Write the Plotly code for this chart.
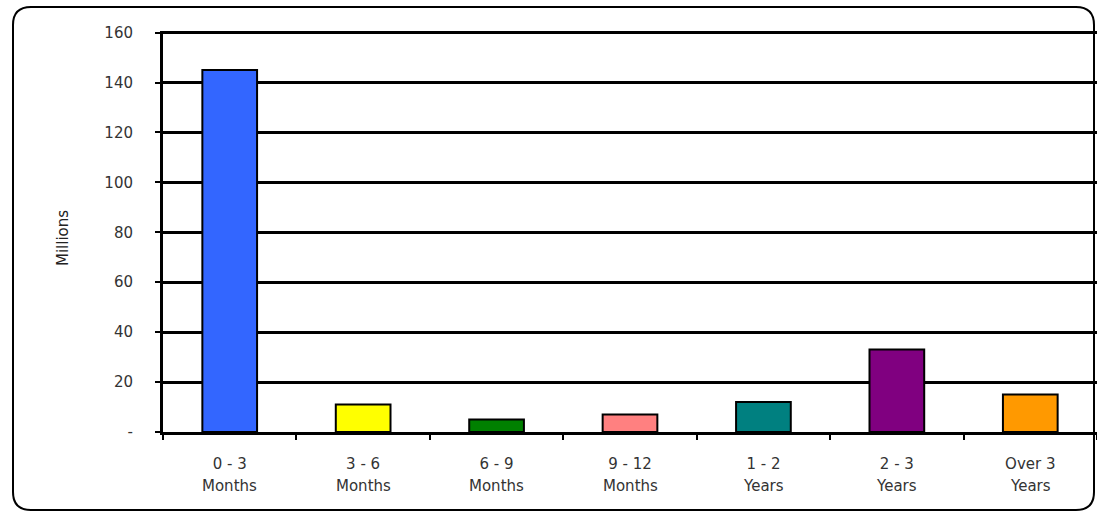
import plotly.graph_objects as go

# Ageing buckets and balances (millions)
period_ranges = ["0 - 3", "3 - 6", "6 - 9", "9 - 12", "1 - 2", "2 - 3", "Over 3"]
period_units = ["Months", "Months", "Months", "Months", "Years", "Years", "Years"]
balances = [145, 11, 5, 7, 12, 33, 15]
bar_colors = ["#3366FF", "#FFFF00", "#008000", "#FF8080", "#008080", "#800080", "#FF9900"]

y_tick_values = [0, 20, 40, 60, 80, 100, 120, 140, 160]
y_tick_labels = ["-", "20", "40", "60", "80", "100", "120", "140", "160"]

categories = [f"{r}|{u}" for r, u in zip(period_ranges, period_units)]

W, H = 1097, 512
L, R, T, B = 163, 0, 31, 80
pw, ph = W - L - R, H - T - B

fig = go.Figure(
    go.Bar(
        x=categories,
        y=balances,
        width=0.41,
        marker=dict(color=bar_colors, line=dict(color="black", width=2)),
        hoverinfo="x+y",
    )
)

font = dict(family="DejaVu Sans, Arial, sans-serif", size=15, color="#333333")

fig.update_layout(
    width=W,
    height=H,
    margin=dict(l=L, r=R, t=T, b=B),
    paper_bgcolor="white",
    plot_bgcolor="white",
    showlegend=False,
    font=font,
    xaxis=dict(
        type="category",
        tickvals=categories,
        ticktext=period_ranges,
        tickson="boundaries",
        ticks="outside",
        ticklen=5,
        tickwidth=2,
        tickcolor="black",
        ticklabelstandoff=16,
        showline=True,
        linecolor="black",
        linewidth=3,
        showgrid=False,
        range=[-0.5, 6.5],
        tickfont=font,
    ),
    yaxis=dict(
        # small headroom so the 160 gridline is drawn at full width
        range=[0, max(y_tick_values) * 1.004],
        tickvals=y_tick_values,
        ticktext=y_tick_labels,
        ticks="outside",
        ticklen=5,
        tickwidth=2,
        tickcolor="black",
        ticklabelstandoff=19,
        showline=True,
        linecolor="black",
        linewidth=3,
        showgrid=True,
        gridcolor="black",
        gridwidth=3,
        zeroline=False,
        tickfont=font,
    ),
)

# second line of each category label
for cat, unit in zip(categories, period_units):
    fig.add_annotation(
        x=cat, xref="x", y=-(486 - 432) / ph, yref="paper",
        text=unit, showarrow=False, font=font, yanchor="middle",
    )

# axis title
fig.add_annotation(
    x=(52 - L) / pw, xref="paper", y=(432 - 238) / ph, yref="paper",
    text="Millions", textangle=-90, showarrow=False,
    font=dict(family="DejaVu Sans, Arial, sans-serif", size=15, color="#222222"),
)

# rounded chart frame
x0, x1 = (13 - L) / pw, (1094 - L) / pw
y0, y1 = (432 - 510) / ph, (432 - 7) / ph
rx, ry = 18 / pw, 18 / ph
frame = (
    f"M {x0},{y0 + ry} L {x0},{y1 - ry} Q {x0},{y1} {x0 + rx},{y1} "
    f"L {x1 - rx},{y1} Q {x1},{y1} {x1},{y1 - ry} "
    f"L {x1},{y0 + ry} Q {x1},{y0} {x1 - rx},{y0} "
    f"L {x0 + rx},{y0} Q {x0},{y0} {x0},{y0 + ry} Z"
)
fig.add_shape(type="path", path=frame, xref="paper", yref="paper",
              line=dict(color="black", width=2), layer="below")

fig.write_html("out.html")
